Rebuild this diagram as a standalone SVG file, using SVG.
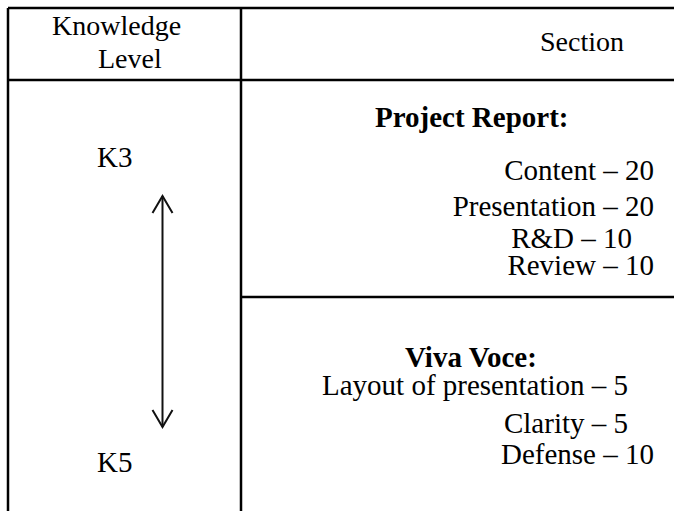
<svg xmlns="http://www.w3.org/2000/svg" width="674" height="511" viewBox="0 0 674 511">
<style>
text{font-family:'Liberation Serif',Tinos,'Times New Roman',Times,serif;font-size:29px;fill:#000}
.h{font-size:28px}
.b{font-weight:bold}
.e{text-anchor:end}
.g{stroke:#000;stroke-width:2.5;fill:none}
.a{stroke:#111;stroke-width:2;fill:none}
</style>
<rect width="674" height="511" fill="#fff"/>
<g id="grid">
<line class="g" x1="8" y1="8" x2="674" y2="8"/>
<line class="g" x1="8" y1="8" x2="8" y2="511"/>
<line class="g" x1="241" y1="8" x2="241" y2="511"/>
<line class="g" x1="8" y1="80" x2="674" y2="80"/>
<line class="g" x1="241" y1="297" x2="674" y2="297"/>
</g>
<g id="header" font-family="Liberation Serif, serif">
<text class="h" x="52" y="35">Knowledge</text>
<text class="h" x="98" y="68">Level</text>
<text class="h" x="540" y="51">Section</text>
</g>
<g id="levels" font-family="Liberation Serif, serif">
<text x="97" y="167">K3</text>
<text x="97" y="472">K5</text>
</g>
<g id="connectors">
<line class="a" x1="162.5" y1="196" x2="162.5" y2="427"/>
<polyline class="a" points="152.5,213 162.5,196 172.5,213"/>
<polyline class="a" points="152.5,410 162.5,427 172.5,410"/>
</g>
<g id="project-report" font-family="Liberation Serif, serif">
<text class="b" x="375" y="127">Project Report:</text>
<text class="e" x="654" y="180">Content – 20</text>
<text class="e" x="654" y="216">Presentation – 20</text>
<text class="e" x="632" y="248">R&amp;D – 10</text>
<text class="e" x="654" y="275">Review – 10</text>
</g>
<g id="viva-voce" font-family="Liberation Serif, serif">
<text class="b" x="405" y="367">Viva Voce:</text>
<text x="322" y="395">Layout of presentation – 5</text>
<text class="e" x="628" y="433">Clarity – 5</text>
<text class="e" x="654" y="464">Defense – 10</text>
</g>
</svg>
